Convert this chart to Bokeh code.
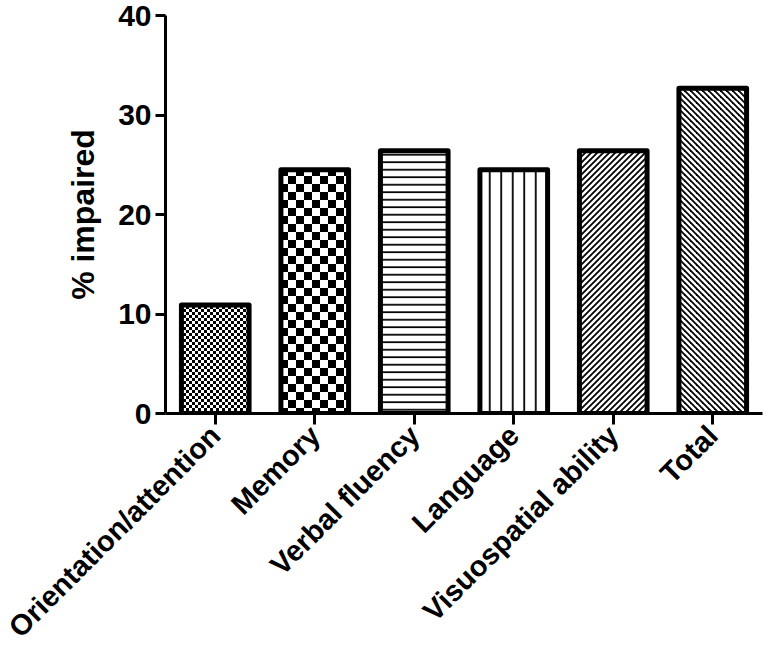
import math
import base64
from bokeh.plotting import figure
from bokeh.models import ColumnDataSource, ImageURLTexture, FixedTicker
from bokeh.embed import file_html
from bokeh.resources import INLINE

categories = ["Orientation/attention", "Memory", "Verbal fluency", "Language",
              "Visuospatial ability", "Total"]
pct_impaired = [10.9, 24.5, 26.4, 24.5, 26.4, 32.7]
y_ticks = [0, 10, 20, 30, 40]

# styles (one per bar)
patterns = ["checker_small", "checker_big", "horizontal_line", "vertical_line",
            "diag_up", "diag_down"]
scales = [6, 16, 7.5, 11.5, 6, 6]
weights = [1, 1, 1.8, 1.8, 1.8, 1.8]


def data_url(svg):
    return "data:image/svg+xml;base64," + base64.b64encode(svg.encode()).decode()


def checker_svg(n):
    h = n // 2
    return data_url(
        f'<svg xmlns="http://www.w3.org/2000/svg" width="{n}" height="{n}" '
        f'shape-rendering="crispEdges">'
        f'<rect width="{n}" height="{n}" fill="white"/>'
        f'<rect x="0" y="0" width="{h}" height="{h}" fill="black"/>'
        f'<rect x="{h}" y="{h}" width="{h}" height="{h}" fill="black"/></svg>')


def diag_svg(n, w, up):
    if up:
        segs = [(0, n, n, 0), (-1, 1, 1, -1), (n - 1, n + 1, n + 1, n - 1)]
    else:
        segs = [(0, 0, n, n), (n - 1, -1, n + 1, 1), (-1, n - 1, 1, n + 1)]
    lines = "".join(f'<line x1="{a}" y1="{b}" x2="{c}" y2="{d}"/>' for a, b, c, d in segs)
    return data_url(
        f'<svg xmlns="http://www.w3.org/2000/svg" width="{n}" height="{n}">'
        f'<rect width="{n}" height="{n}" fill="white"/>'
        f'<g stroke="black" stroke-width="{w}" stroke-linecap="square">{lines}</g></svg>')


FONT = "Liberation Sans"

p = figure(x_range=categories, y_range=(0, 40),
           frame_width=597, frame_height=398,
           output_backend="svg", toolbar_location=None,
           min_border_left=165, min_border_right=4, min_border_top=15,
           min_border_bottom=246)

src = ColumnDataSource(dict(x=categories, top=pct_impaired, pat=patterns,
                            sc=scales, wt=weights))
p.vbar(x="x", top="top", width=0.68, source=src, fill_color="white",
       line_color="black", line_width=5, line_join="round",
       hatch_pattern="pat", hatch_scale="sc", hatch_weight="wt",
       hatch_color="black",
       hatch_extra={"checker_small": ImageURLTexture(url=checker_svg(6)),
                    "checker_big": ImageURLTexture(url=checker_svg(16)),
                    "diag_up": ImageURLTexture(url=diag_svg(6, 1.8, True)),
                    "diag_down": ImageURLTexture(url=diag_svg(6, 1.8, False))})

p.outline_line_color = None
p.xgrid.grid_line_color = None
p.ygrid.grid_line_color = None
p.background_fill_color = "white"
p.border_fill_color = "white"

for ax in (p.xaxis[0], p.yaxis[0]):
    ax.axis_line_width = 3
    ax.axis_line_color = "black"
    ax.major_tick_line_width = 3
    ax.major_tick_line_color = "black"
    ax.minor_tick_line_color = None
    ax.major_tick_in = 0
    ax.major_label_text_font = FONT
    ax.major_label_text_font_style = "bold"
    ax.major_label_text_font_size = "30px"
    ax.major_label_text_color = "black"

p.yaxis[0].ticker = FixedTicker(ticks=y_ticks)
p.yaxis[0].major_tick_out = 10
p.yaxis[0].major_label_standoff = 4
p.yaxis[0].axis_label = "% impaired"
p.yaxis[0].axis_label_text_font = FONT
p.yaxis[0].axis_label_text_font_style = "bold"
p.yaxis[0].axis_label_text_font_size = "32px"
p.yaxis[0].axis_label_text_color = "black"
p.yaxis[0].axis_label_standoff = 14

p.xaxis[0].major_label_text_font_size = "29px"
p.xaxis[0].major_tick_out = 11
p.xaxis[0].major_label_standoff = 6
p.xaxis[0].major_label_orientation = math.pi / 4

open("out.html", "w").write(file_html(p, INLINE))
